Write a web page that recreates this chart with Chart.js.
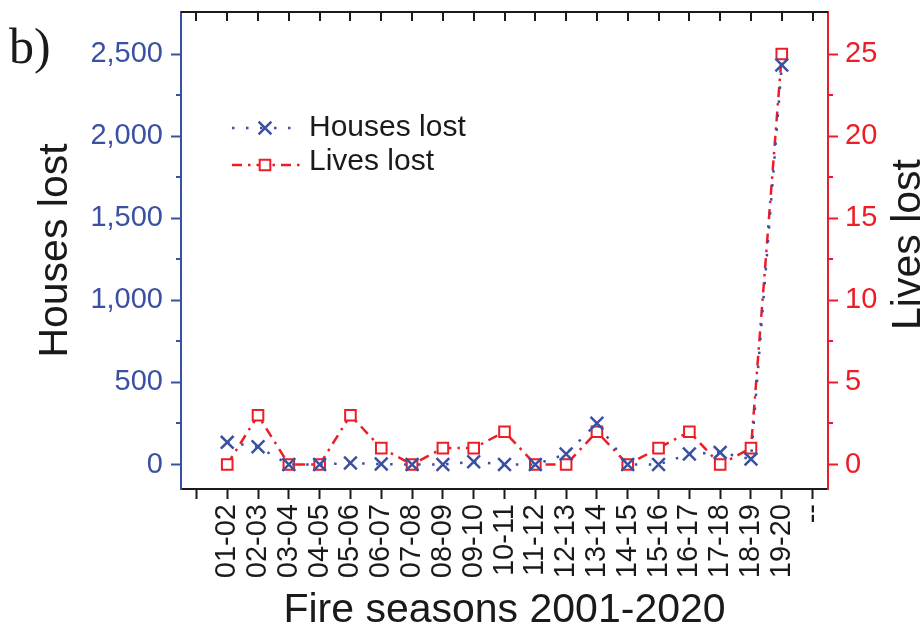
<!DOCTYPE html>
<html>
<head>
<meta charset="utf-8">
<script src="https://cdn.jsdelivr.net/npm/chart.js@4/dist/chart.umd.min.js"></script>
<style>
  html, body { margin: 0; padding: 0; background: #fff; }
  canvas { display: block; }
</style>
</head>
<body>
<canvas id="c" width="921" height="632"></canvas>
<script>
// Fire seasons and losses per season
const seasons = ['01-02', '02-03', '03-04', '04-05', '05-06', '06-07', '07-08', '08-09', '09-10', '10-11',
                 '11-12', '12-13', '13-14', '14-15', '15-16', '16-17', '17-18', '18-19', '19-20'];
const housesLost = [135, 108, 0, 0, 9, 3, 0, 0, 17, 0, 0, 64, 251, 0, 0, 64, 74, 33, 2433];
const livesLost  = [0, 3, 0, 0, 3, 1, 0, 1, 1, 2, 0, 0, 2, 0, 1, 2, 0, 1, 25];

// Axis ticks
const axisLabels = ['', ...seasons, '--'];
const houseTicks = [0, 500, 1000, 1500, 2000, 2500];
const houseMinorTicks = [250, 750, 1250, 1750, 2250];
const lifeTicks = [0, 5, 10, 15, 20, 25];
const lifeMinorTicks = [2.5, 7.5, 12.5, 17.5, 22.5];

const BLUE = '#3a50a2';
const RED = '#ee1c25';
const INK = '#1a1a1a';
const SANS = '"Liberation Sans", Arial, sans-serif';

Chart.defaults.font.family = SANS;

const withCommas = v => String(v).replace(/\B(?=(\d{3})+(?!\d))/g, ',');

// Minor ticks, top frame line with inward ticks
const framePlugin = {
  id: 'frame',
  afterDraw(chart) {
    const { ctx, chartArea: a, scales } = chart;
    ctx.save();
    ctx.lineWidth = 2;
    ctx.setLineDash([]);
    // top edge
    ctx.strokeStyle = INK;
    ctx.beginPath();
    ctx.moveTo(a.left, a.top);
    ctx.lineTo(a.right, a.top);
    ctx.stroke();
    const xs = scales.x;
    xs.ticks.forEach((t, i) => {
      const px = Math.round(xs.getPixelForTick(i));
      ctx.beginPath();
      ctx.moveTo(px, a.top);
      ctx.lineTo(px, a.top + 9);
      ctx.stroke();
    });
    // minor ticks, left
    ctx.strokeStyle = BLUE;
    houseMinorTicks.forEach(v => {
      const py = Math.round(scales.y.getPixelForValue(v));
      ctx.beginPath();
      ctx.moveTo(a.left - 5, py);
      ctx.lineTo(a.left, py);
      ctx.stroke();
    });
    // minor ticks, right
    ctx.strokeStyle = RED;
    lifeMinorTicks.forEach(v => {
      const py = Math.round(scales.y1.getPixelForValue(v));
      ctx.beginPath();
      ctx.moveTo(a.right, py);
      ctx.lineTo(a.right + 5, py);
      ctx.stroke();
    });
    ctx.restore();
  }
};

// Panel letter and right-hand axis title (reads bottom to top)
const textPlugin = {
  id: 'extraText',
  afterDraw(chart) {
    const { ctx, chartArea: a } = chart;
    ctx.save();
    ctx.fillStyle = INK;
    ctx.font = '50px "Liberation Serif", "Times New Roman", serif';
    ctx.textAlign = 'left';
    ctx.textBaseline = 'alphabetic';
    ctx.fillText('b)', 9, 63);

    ctx.font = '41px ' + SANS;
    ctx.translate(920, (a.top + a.bottom) / 2 - 6);
    ctx.rotate(-Math.PI / 2);
    ctx.textAlign = 'center';
    ctx.fillText('Lives lost', 0, 0);
    ctx.restore();
  }
};

// Legend inside the plot, line sample with marker
const insetLegend = {
  id: 'insetLegend',
  afterDraw(chart) {
    const { ctx } = chart;
    const rows = [
      { ds: 0, sampleY: 128, textY: 128 },
      { ds: 1, sampleY: 165, textY: 161.5 }
    ];
    ctx.save();
    rows.forEach(r => {
      const d = chart.data.datasets[r.ds];
      ctx.strokeStyle = d.borderColor;
      ctx.lineWidth = d.borderWidth;
      ctx.setLineDash(d.borderDash);
      ctx.lineDashOffset = 0;
      ctx.beginPath();
      ctx.moveTo(232, r.sampleY);
      ctx.lineTo(300, r.sampleY);
      ctx.stroke();
      ctx.setLineDash([]);
      ctx.fillStyle = d.pointBackgroundColor;
      ctx.strokeStyle = d.pointBorderColor;
      ctx.lineWidth = d.pointBorderWidth;
      Chart.helpers.drawPoint(ctx, {
        pointStyle: d.pointStyle, radius: d.pointRadius, borderWidth: d.pointBorderWidth, rotation: 0
      }, 265, r.sampleY);
      ctx.fillStyle = INK;
      ctx.font = '30px ' + SANS;
      ctx.textAlign = 'left';
      ctx.textBaseline = 'middle';
      ctx.fillText(d.label, 309, r.textY);
    });
    ctx.restore();
  }
};

// Vertical scales: fixed width, no extra room reserved for label overhang
const fitVertical = width => s => {
  s.width = width;
  s.paddingTop = 0;
  s.paddingBottom = 0;
};

new Chart(document.getElementById('c'), {
  type: 'line',
  data: {
    labels: axisLabels,
    datasets: [
      {
        label: 'Houses lost',
        data: seasons.map((s, i) => ({ x: s, y: housesLost[i] })),
        yAxisID: 'y',
        borderColor: BLUE,
        borderWidth: 2.5,
        borderDash: [2.5, 11.5],
        tension: 0,
        fill: false,
        pointStyle: 'crossRot',
        pointRadius: 9,
        pointBorderWidth: 2.5,
        pointBorderColor: BLUE,
        pointBackgroundColor: BLUE,
        order: 0
      },
      {
        label: 'Lives lost',
        data: seasons.map((s, i) => ({ x: s, y: livesLost[i] })),
        yAxisID: 'y1',
        borderColor: RED,
        borderWidth: 2.5,
        borderDash: [10, 6, 2.5, 6],
        tension: 0,
        fill: false,
        pointStyle: 'rect',
        pointRadius: 7.5,
        pointBorderWidth: 2,
        pointBorderColor: RED,
        pointBackgroundColor: '#ffffff',
        order: 1
      }
    ]
  },
  options: {
    responsive: false,
    animation: false,
    devicePixelRatio: 1,
    layout: { padding: { top: 12, left: 0, right: 0, bottom: 0 } },
    plugins: {
      legend: { display: false },
      tooltip: { enabled: false }
    },
    scales: {
      x: {
        type: 'category',
        position: 'bottom',
        offset: true,
        grid: { display: true, drawOnChartArea: false, drawTicks: true, tickLength: 10, tickWidth: 2, tickColor: INK },
        border: { display: true, color: INK, width: 2 },
        ticks: { autoSkip: false, minRotation: 90, maxRotation: 90, padding: 5, color: INK, font: { size: 29 } },
        title: {
          display: true, text: 'Fire seasons 2001-2020', color: INK,
          font: { size: 41, lineHeight: 1 }, padding: { top: 0, bottom: 0.5 }
        },
        afterFit(s) { s.height = 143; }
      },
      y: {
        position: 'left',
        min: -149,
        max: 2756,
        afterBuildTicks(s) { s.ticks = houseTicks.map(v => ({ value: v })); },
        grid: { display: true, drawOnChartArea: false, tickLength: 10, tickWidth: 2, tickColor: BLUE },
        border: { display: true, color: BLUE, width: 2 },
        ticks: { color: BLUE, padding: 8, font: { size: 29 }, callback: v => withCommas(v) },
        title: {
          display: true, text: 'Houses lost', color: INK,
          font: { size: 41, lineHeight: 1.2 }, padding: { top: 31, bottom: 0 }
        },
        afterFit: fitVertical(181)
      },
      y1: {
        position: 'right',
        min: -1.49,
        max: 27.56,
        afterBuildTicks(s) { s.ticks = lifeTicks.map(v => ({ value: v })); },
        grid: { display: true, drawOnChartArea: false, tickLength: 10, tickWidth: 2, tickColor: RED },
        border: { display: true, color: RED, width: 2 },
        ticks: { color: RED, padding: 7, font: { size: 29 } },
        afterFit: fitVertical(93)
      }
    }
  },
  plugins: [framePlugin, textPlugin, insetLegend]
});
</script>
</body>
</html>
